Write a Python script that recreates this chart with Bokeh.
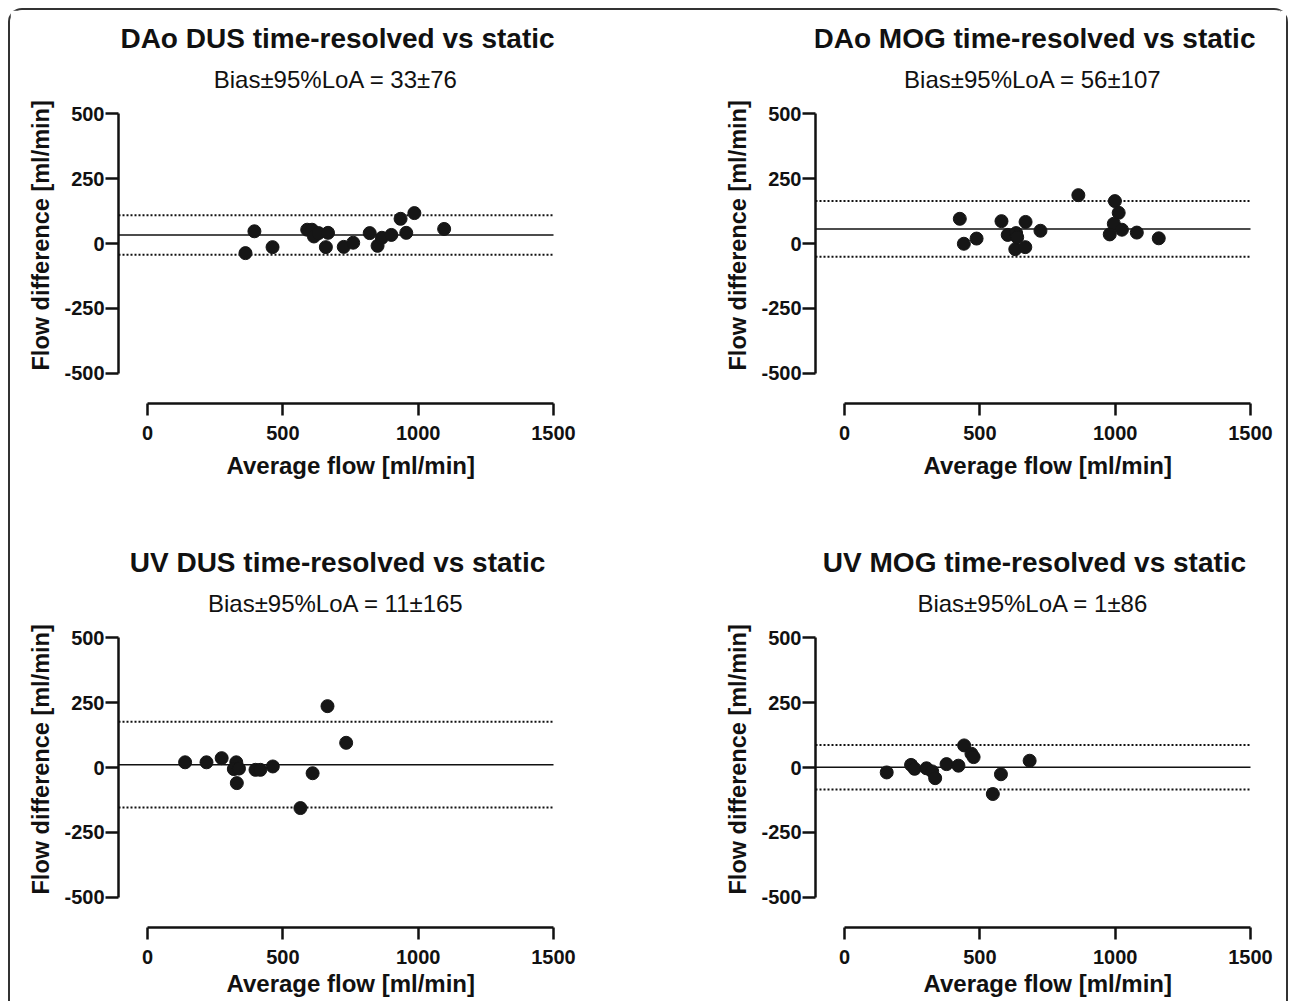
from bokeh.plotting import figure
from bokeh.models import Title, Label, Range1d, FixedTicker
from bokeh.layouts import column, row
from bokeh.embed import file_html
from bokeh.resources import INLINE

# ---------------- data ----------------
titles = ["DAo DUS time-resolved vs static", "DAo MOG time-resolved vs static",
          "UV DUS time-resolved vs static", "UV MOG time-resolved vs static"]
bias = [33, 56, 11, 1]
loa = [76, 107, 165, 86]

dao_dus_avg = [395, 362, 462, 590, 608, 615, 632, 667, 659, 725, 760, 821, 850, 866, 901, 935, 956, 986, 1096]
dao_dus_diff = [47, -37, -14, 53, 53, 27, 40, 41, -14, -13, 3, 40, -9, 22, 33, 95, 41, 117, 56]

dao_mog_avg = [426, 441, 488, 580, 603, 634, 631, 668, 669, 638, 724, 864, 999, 1013, 995, 980, 1025, 1080, 1161]
dao_mog_diff = [95, -1, 19, 86, 33, 40, -22, -14, 83, 24, 49, 186, 163, 118, 76, 35, 53, 42, 20]

uv_dus_avg = [139, 218, 274, 328, 319, 338, 330, 399, 417, 463, 565, 610, 665, 734]
uv_dus_diff = [20, 20, 36, 20, -6, -4, -60, -9, -9, 4, -156, -22, 236, 95]

uv_mog_avg = [156, 246, 259, 303, 324, 335, 377, 421, 442, 469, 477, 548, 578, 684]
uv_mog_diff = [-19, 10, -5, -3, -15, -41, 13, 7, 85, 53, 40, -102, -26, 26]

x_ticks = [0, 500, 1000, 1500]
y_ticks = [-500, -250, 0, 250, 500]
y_tick_labels = ["-500", "-250", "0", "250", "500"]
x_label = "Average flow [ml/min]"
y_label = "Flow difference [ml/min]"

panels = [(dao_dus_avg, dao_dus_diff), (dao_mog_avg, dao_mog_diff),
          (uv_dus_avg, uv_dus_diff), (uv_mog_avg, uv_mog_diff)]

# ---------------- layout constants ----------------
FONT = "Liberation Sans"
INK = "#111111"
FW, FH = 465, 393
W = [637, 639]
LEFT = [108, 168]
ROWH = [524, 467]
XLAB_STANDOFF = [14, 2]
X_START, X_END = -107.1, 1610.8
Y_START, Y_END = -615.4, 896.2


def make_panel(i):
    xs, ys = panels[i]
    col = i % 2
    rw = i // 2
    width, height = W[col], ROWH[rw]
    p = figure(width=width, height=height, title=None, toolbar_location=None,
               output_backend="svg",
               x_range=Range1d(X_START, X_END),
               y_range=Range1d(Y_START, Y_END))
    p.min_border_left = LEFT[col]
    p.min_border_right = width - LEFT[col] - FW
    p.min_border_top = 0
    p.min_border_bottom = height - FH
    p.outline_line_color = None
    p.grid.visible = False
    p.background_fill_color = "white"
    p.border_fill_color = "white"

    # panel title and bias subtitle
    p.add_layout(Label(x=219, y=FH - 28, x_units="screen", y_units="screen",
                       text=titles[i], text_align="center", text_baseline="middle",
                       text_font=FONT, text_font_size="28px", text_font_style="bold",
                       text_color=INK))
    p.add_layout(Label(x=217.5, y=FH - 69, x_units="screen", y_units="screen",
                       text=f"Bias\u00b195%LoA = {bias[i]}\u00b1{loa[i]}",
                       text_align="center", text_baseline="middle",
                       text_font=FONT, text_font_size="24px", text_font_style="normal",
                       text_color=INK))

    # axes
    for ax, ticks in ((p.xaxis[0], x_ticks), (p.yaxis[0], y_ticks)):
        ax.ticker = FixedTicker(ticks=ticks)
        ax.bounds = (ticks[0], ticks[-1])
        ax.axis_line_width = 2.5
        ax.axis_line_color = INK
        ax.major_tick_line_width = 2.5
        ax.major_tick_line_color = INK
        ax.major_tick_in = 0
        ax.minor_tick_line_color = None
        ax.major_label_text_font = FONT
        ax.major_label_text_font_size = "20px"
        ax.major_label_text_font_style = "bold"
        ax.major_label_text_color = INK
    p.yaxis.major_label_overrides = {t: s for t, s in zip(y_ticks, y_tick_labels)}
    p.xaxis.major_tick_out = 12
    p.xaxis.major_label_standoff = 10
    p.yaxis.major_tick_out = 13
    p.yaxis.major_label_standoff = 1

    # axis titles, placed along the axis extent
    p.add_layout(Title(text=x_label, align="left", offset=108, text_font=FONT,
                       text_font_size="24px", text_font_style="bold", text_color=INK,
                       standoff=XLAB_STANDOFF[rw]), "below")
    p.add_layout(Title(text=y_label, align="left", offset=33, text_font=FONT,
                       text_font_size="23.5px", text_font_style="bold", text_color=INK,
                       standoff=15), "left")

    # bias (solid) and 95% limits of agreement (dotted), drawn over the x-axis extent
    p.segment(x0=X_START, x1=x_ticks[-1], y0=[bias[i]], y1=[bias[i]],
              line_color=INK, line_width=1.5)
    lims = [bias[i] + loa[i], bias[i] - loa[i]]
    p.segment(x0=X_START, x1=x_ticks[-1], y0=lims, y1=lims,
              line_color=INK, line_width=2, line_dash="2 2")

    p.scatter(xs, ys, size=13, fill_color="#161616", line_color="#161616")
    return p


figs = [make_panel(i) for i in range(4)]
layout = column(row(figs[0], figs[1]), row(figs[2], figs[3]),
                styles={"margin-left": "8px", "margin-top": "8px",
                        "border-top": "2px solid #333333",
                        "border-left": "2px solid #333333",
                        "border-right": "2px solid #333333",
                        "border-top-left-radius": "14px",
                        "border-top-right-radius": "14px"})

open("out.html", "w").write(file_html(layout, INLINE))
